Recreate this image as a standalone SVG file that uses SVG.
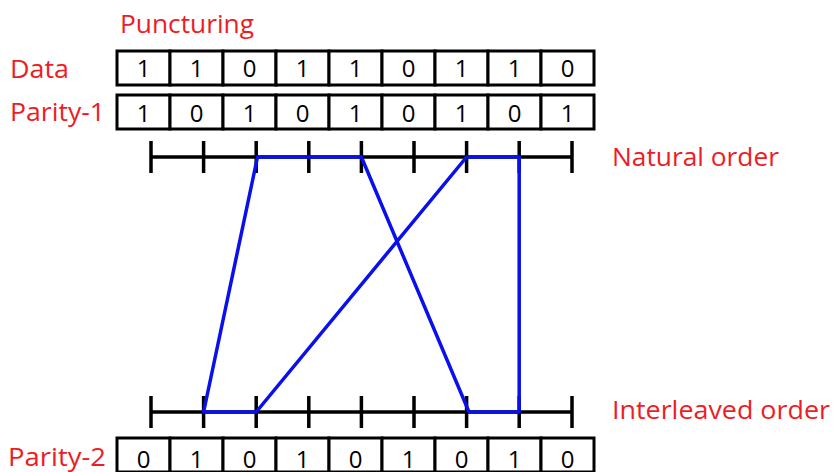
<svg xmlns="http://www.w3.org/2000/svg" width="835" height="472" viewBox="0 0 835 472">
<style>
.lbl{font-family:"Open Sans","Liberation Sans",sans-serif;font-size:26px;fill:#ee1c25}
.dig{font-family:"Open Sans","Liberation Sans",sans-serif;font-size:24px;fill:#000;text-anchor:middle}
.cell{fill:#fff;stroke:#000;stroke-width:3}
.axis{stroke:#000;stroke-width:3.5;fill:none}
.blue{stroke:#0a10ec;stroke-width:3.5;fill:none;stroke-linejoin:round}
</style>
<defs>
<g id="row">
<rect class="cell" x="117" y="0" width="53" height="34"/>
<rect class="cell" x="170" y="0" width="53" height="34"/>
<rect class="cell" x="223" y="0" width="53" height="34"/>
<rect class="cell" x="276" y="0" width="53" height="34"/>
<rect class="cell" x="329" y="0" width="53" height="34"/>
<rect class="cell" x="382" y="0" width="53" height="34"/>
<rect class="cell" x="435" y="0" width="53" height="34"/>
<rect class="cell" x="488" y="0" width="53" height="34"/>
<rect class="cell" x="541" y="0" width="53" height="34"/>
</g>
<g id="axis">
<path class="axis" d="M151,0H572M151,-16V16M203.6,-16V16M256.2,-16V16M308.8,-16V16M361.4,-16V16M414,-16V16M466.6,-16V16M519.2,-16V16M572,-16V16"/>
</g>
</defs>
<g id="labels">
<text class="lbl" x="120" y="33" textLength="134" lengthAdjust="spacingAndGlyphs">Puncturing</text>
<text class="lbl" x="10" y="78" textLength="59" lengthAdjust="spacingAndGlyphs">Data</text>
<text class="lbl" x="10" y="121" textLength="95" lengthAdjust="spacingAndGlyphs">Parity-1</text>
<text class="lbl" x="612" y="166" textLength="167" lengthAdjust="spacingAndGlyphs">Natural order</text>
<text class="lbl" x="612" y="419" textLength="218" lengthAdjust="spacingAndGlyphs">Interleaved order</text>
<text class="lbl" x="8" y="466" textLength="98" lengthAdjust="spacingAndGlyphs">Parity-2</text>
</g>
<g id="data-row">
<use href="#row" y="51"/>
<text class="dig" y="77"><tspan x="143.5">1</tspan><tspan x="196.5">1</tspan><tspan x="249.5">0</tspan><tspan x="302.5">1</tspan><tspan x="355.5">1</tspan><tspan x="408.5">0</tspan><tspan x="461.5">1</tspan><tspan x="514.5">1</tspan><tspan x="567.5">0</tspan></text>
</g>
<g id="parity1-row">
<use href="#row" y="95"/>
<text class="dig" y="122"><tspan x="143.5">1</tspan><tspan x="196.5">0</tspan><tspan x="249.5">1</tspan><tspan x="302.5">0</tspan><tspan x="355.5">1</tspan><tspan x="408.5">0</tspan><tspan x="461.5">1</tspan><tspan x="514.5">0</tspan><tspan x="567.5">1</tspan></text>
</g>
<g id="natural-order">
<use href="#axis" y="157"/>
</g>
<g id="interleaved-order">
<use href="#axis" y="412"/>
</g>
<g id="parity2-row">
<use href="#row" y="438"/>
<text class="dig" y="468"><tspan x="143.5">0</tspan><tspan x="196.5">1</tspan><tspan x="249.5">0</tspan><tspan x="302.5">1</tspan><tspan x="355.5">0</tspan><tspan x="408.5">1</tspan><tspan x="461.5">0</tspan><tspan x="514.5">1</tspan><tspan x="567.5">0</tspan></text>
</g>
<g id="connectors">
<path class="blue" d="M203.6,412L257.5,157H361.4L469,412H519.2V157H466.6L256.2,412Z"/>
</g>
</svg>
